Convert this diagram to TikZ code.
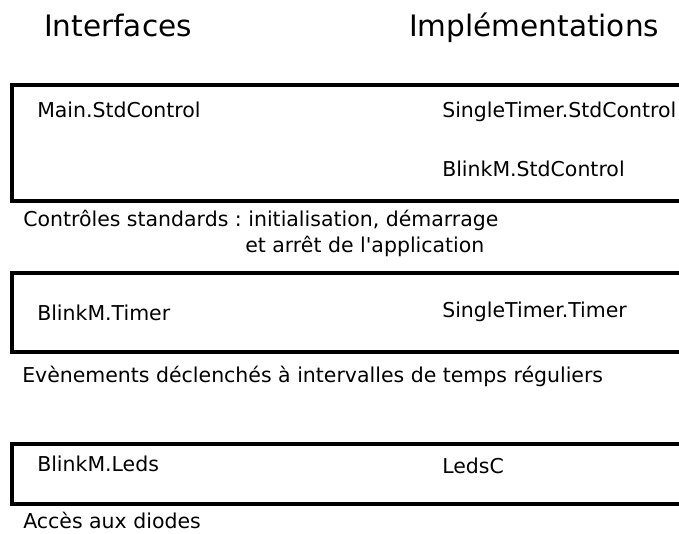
\documentclass[tikz,border=0pt]{standalone}
\usepackage{fontspec}
\newfontfamily\dvs{DejaVu Sans}
\frenchspacing
\begin{document}
\begin{tikzpicture}[x=0.75pt,y=-0.75pt,
  title/.style={anchor=base west,inner sep=0pt,font=\dvs\fontsize{22.15}{27}\selectfont},
  lbl/.style={anchor=base west,inner sep=0pt,font=\dvs\fontsize{15.35}{18}\selectfont},
  frame/.style={line width=2.3pt,line join=miter}]
\useasboundingbox (0,0) rectangle (679,533);
\clip (0,0) rectangle (679,533);
% titles
\node[title] (tint) at (44,36) {Interfaces};
\node[title] (timp) at (409,36) {Implémentations};
% box 1
\draw[frame] (685,85) -- (12,85) -- (12,201) -- (685,201);
\node[lbl] (mainstd) at (37,117) {Main.StdControl};
\node[lbl] (ststd) at (442,117) {SingleTimer.StdControl};
\node[lbl] (bmstd) at (442,176) {BlinkM.StdControl};
\node[lbl] (c1a) at (23,226) {Contrôles standards : initialisation, démarrage};
\node[lbl] (c1b) at (245,252) {et arrêt de l'application};
% box 2
\draw[frame] (685,273) -- (12,273) -- (12,352) -- (685,352);
\node[lbl] (bmtimer) at (37,320) {BlinkM.Timer};
\node[lbl] (sttimer) at (442,317) {SingleTimer.Timer};
\node[lbl] (c2) at (22,382) {Evènements déclenchés à intervalles de temps réguliers};
% box 3
\draw[frame] (685,444) -- (12,444) -- (12,504) -- (685,504);
\node[lbl] (bmleds) at (37,471) {BlinkM.Leds};
\node[lbl] (ledsc) at (442,473) {LedsC};
\node[lbl] (c3) at (23,528) {Accès aux diodes};
\end{tikzpicture}
\end{document}
